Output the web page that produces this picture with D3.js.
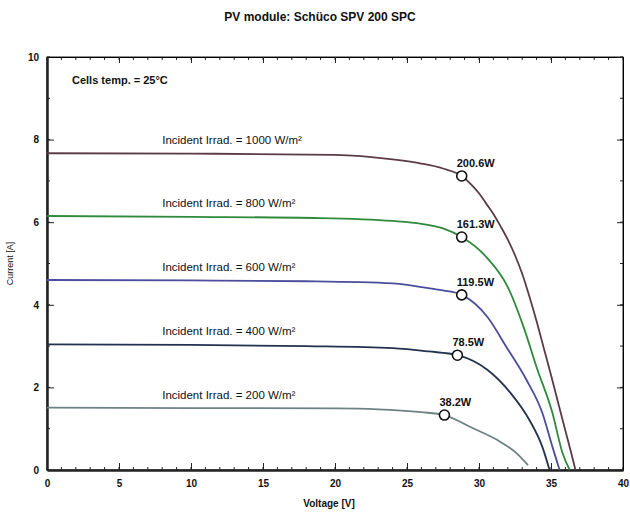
<!DOCTYPE html>
<html>
<head>
<meta charset="utf-8">
<script src="https://cdn.jsdelivr.net/npm/d3@7"></script>
<style>
  body { margin: 0; background: #fff; }
  text { font-family: "Liberation Sans", Arial, sans-serif; fill: #111; }
</style>
</head>
<body>
<svg id="chart" width="630" height="512"></svg>
<script>
// curves: voltage [V] and current [A]
var v1000 = [0, 10, 20, 24, 26, 27.5, 28.8, 29.5, 30, 30.5, 31, 31.5, 32, 32.5, 33, 33.5, 34, 34.5, 35, 35.5, 36, 36.4, 36.7];
var i1000 = [7.67, 7.66, 7.63, 7.52, 7.42, 7.3, 7.12, 6.9, 6.7, 6.45, 6.2, 5.9, 5.58, 5.2, 4.75, 4.2, 3.6, 2.95, 2.3, 1.62, 0.95, 0.42, 0];
var v800 = [0, 10, 19, 24, 26, 27.5, 28.8, 30.5, 32, 33.1, 34, 35.1, 35.8, 36.3];
var i800 = [6.15, 6.13, 6.1, 6.03, 5.96, 5.85, 5.64, 5.16, 4.43, 3.46, 2.49, 1.38, 0.41, 0];
var v600 = [0, 10, 18, 24, 26, 27.5, 28.8, 30.6, 31.9, 33.3, 34.4, 35.1, 35.6];
var i600 = [4.6, 4.59, 4.57, 4.52, 4.43, 4.35, 4.24, 3.7, 2.98, 2.18, 1.38, 0.56, 0];
var v400 = [0, 10, 18, 24, 26.5, 28.5, 30.6, 32.2, 33.5, 34.4, 34.9];
var i400 = [3.04, 3.03, 3.0, 2.95, 2.87, 2.78, 2.42, 1.86, 1.21, 0.56, 0];
var v200 = [0, 10, 20, 23, 26, 27.6, 29.4, 31.25, 32.6, 33.4];
var i200 = [1.51, 1.50, 1.49, 1.47, 1.40, 1.33, 1.04, 0.73, 0.41, 0.12];

var irrad = ["1000", "800", "600", "400", "200"];
var mppV = [28.8, 28.8, 28.8, 28.5, 27.6];
var mppI = [7.12, 5.64, 4.24, 2.78, 1.33];
var mppLabel = ["200.6W", "161.3W", "119.5W", "78.5W", "38.2W"];
var colors = ["#5b3c44", "#2f8a3c", "#4a4e9c", "#22324f", "#6d8283"];

var xTicks = [0, 5, 10, 15, 20, 25, 30, 35, 40];
var yTicks = [0, 2, 4, 6, 8, 10];

var svg = d3.select("#chart");
var margin = {left: 47, right: 7, top: 57, bottom: 42},
    width  = +svg.attr("width")  - margin.left - margin.right,
    height = +svg.attr("height") - margin.top  - margin.bottom;

var x = d3.scaleLinear().domain([0, 40]).range([0, width]);
var y = d3.scaleLinear().domain([0, 10]).range([height, 0]);

var g = svg.append("g")
    .attr("transform", "translate(" + margin.left + "," + margin.top + ")");

// frame
g.append("rect")
    .attr("width", width).attr("height", height)
    .attr("fill", "none").attr("stroke", "#222").attr("stroke-width", 1);

// minor ticks, inward on all sides
var minorX = d3.range(0, 41, 1), minorY = d3.range(0, 11, 1);
g.selectAll(".mx").data(minorX).enter().append("line")
    .attr("x1", x).attr("x2", x).attr("y1", height).attr("y2", height - 3)
    .attr("stroke", "#222");
g.selectAll(".mxt").data(minorX).enter().append("line")
    .attr("x1", x).attr("x2", x).attr("y1", 0).attr("y2", 3)
    .attr("stroke", "#222");
g.selectAll(".my").data(minorY).enter().append("line")
    .attr("y1", y).attr("y2", y).attr("x1", 0).attr("x2", 3)
    .attr("stroke", "#222");
g.selectAll(".myr").data(minorY).enter().append("line")
    .attr("y1", y).attr("y2", y).attr("x1", width).attr("x2", width - 3)
    .attr("stroke", "#222");

// major axes
var xAx = g.append("g").attr("transform", "translate(0," + height + ")")
    .call(d3.axisBottom(x).tickValues(xTicks).tickSizeInner(-7).tickSizeOuter(0).tickPadding(10));
var yAx = g.append("g")
    .call(d3.axisLeft(y).tickValues(yTicks).tickSizeInner(-7).tickSizeOuter(0).tickPadding(8));
g.append("g").call(d3.axisTop(x).tickValues(xTicks).tickSizeInner(-6).tickSizeOuter(0).tickFormat(""));
g.append("g").attr("transform", "translate(" + width + ",0)")
    .call(d3.axisRight(y).tickValues(yTicks).tickSizeInner(-6).tickSizeOuter(0).tickFormat(""));
[xAx, yAx].forEach(function(a){
    a.select(".domain").attr("stroke-width", 2.5).attr("stroke", "#222");
    a.selectAll("text").attr("font-size", 10).attr("font-weight", "bold");
});
svg.selectAll(".tick line").attr("stroke", "#222");

// curves
var volts = [v1000, v800, v600, v400, v200];
var amps = [i1000, i800, i600, i400, i200];
var line = d3.line()
    .x(function(d){ return x(d[0]); })
    .y(function(d){ return y(d[1]); })
    .curve(d3.curveMonotoneX);

irrad.forEach(function(key, k){
    var data = volts[k].map(function(v, j){ return [v, amps[k][j]]; });
    g.append("path").datum(data)
        .attr("fill", "none").attr("stroke", colors[k]).attr("stroke-width", 1.8)
        .attr("d", line);
    g.append("text")
        .attr("x", x(8)).attr("y", y(amps[k][0]) - 9)
        .attr("font-size", 11.5)
        .text("Incident Irrad. = " + key + " W/m\u00B2");
    g.append("circle")
        .attr("cx", x(mppV[k])).attr("cy", y(mppI[k])).attr("r", 5)
        .attr("fill", "#fff").attr("stroke", "#111").attr("stroke-width", 1.6);
    g.append("text")
        .attr("x", x(mppV[k]) - 5).attr("y", y(mppI[k]) - 9)
        .attr("font-size", 11).attr("font-weight", "bold")
        .text(mppLabel[k]);
});

g.append("text").attr("x", 25).attr("y", 27)
    .attr("font-size", 11).attr("font-weight", "bold")
    .text("Cells temp. = 25\u00B0C");

// titles
svg.append("text").attr("x", 320).attr("y", 21).attr("text-anchor", "middle")
    .attr("font-size", 12).attr("font-weight", "bold")
    .text("PV module: Sch\u00FCco SPV 200 SPC");
svg.append("text").attr("x", margin.left + width / 2 - 6).attr("y", 507).attr("text-anchor", "middle")
    .attr("font-size", 10).attr("font-weight", "bold")
    .text("Voltage [V]");
svg.append("text").attr("transform", "translate(13," + (margin.top + height / 2) + ") rotate(-90)")
    .attr("text-anchor", "middle").attr("font-size", 9)
    .text("Current [A]");
</script>
</body>
</html>
